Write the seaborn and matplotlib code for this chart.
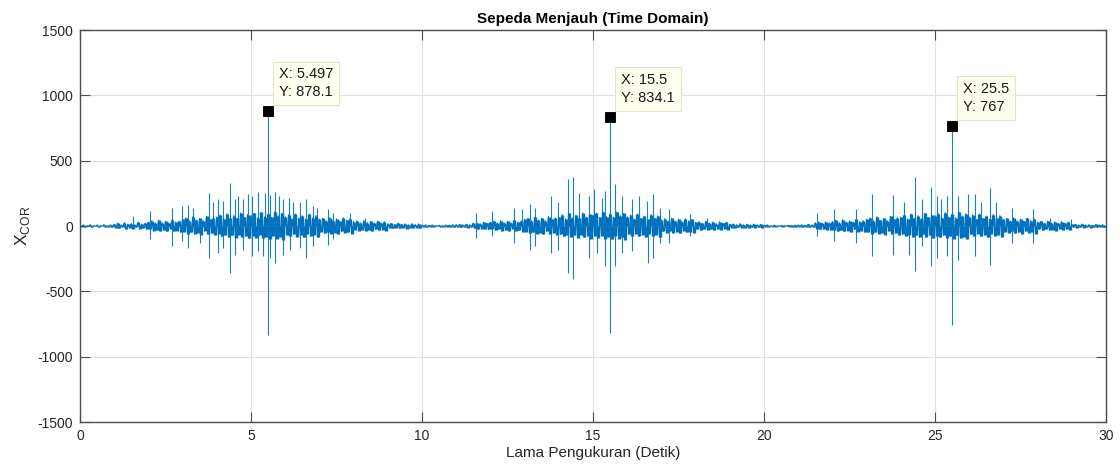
import numpy as np
import pandas as pd
import matplotlib
matplotlib.use("Agg")
import matplotlib.pyplot as plt
import seaborn as sns

# ---------------- data ----------------
dt = 0.05  # sample spacing of the band trace (s)
band_rows = [
    [3,-4,9,-8,2,-3,10,-9,3,-2,8,-7,2,-3,11,-10,3,-4,9,-8],
    [12,-15,22,-18,8,-10,25,-20,14,-12,19,-24,10,-9,28,-22,15,-17,20,-26],
    [30,-25,40,-36,22,-28,45,-38,26,-31,35,-42,24,-20,48,-40,30,-35,38,-45],
    [50,-45,62,-58,40,-48,70,-60,45,-52,58,-66,42,-38,75,-62,50,-55,64,-70],
    [70,-62,85,-80,55,-68,95,-84,60,-72,80,-90,58,-66,100,-86,68,-75,88,-95],
    [80,-76,96,-90,65,-72,104,-94,70,-82,92,-100,66,-74,110,-96,78,-85,98,-104],
    [72,-66,86,-80,56,-64,92,-82,60,-70,78,-88,54,-60,90,-78,62,-68,80,-86],
    [52,-46,60,-56,40,-44,64,-58,42,-50,55,-62,38,-42,62,-54,44,-48,56,-60],
    [34,-28,40,-36,24,-28,42,-36,26,-30,35,-40,22,-26,38,-32,24,-28,33,-36],
    [18,-14,20,-18,12,-14,22,-18,12,-15,17,-20,10,-12,18,-15,11,-13,16,-18],
    [8,-6,9,-8,4,-5,8,-6,3,-3,5,-6,3,-4,8,-7,6,-7,10,-9],
    [10,-8,12,-11,8,-9,14,-12,10,-10,22,-18,26,-24,18,-22,28,-25,20,-26],
    [28,-25,38,-34,22,-26,42,-36,26,-30,35,-40,24,-22,45,-38,30,-34,38,-44],
    [50,-45,60,-56,40,-48,68,-58,45,-52,58,-64,42,-40,72,-60,50,-54,62,-68],
    [70,-64,86,-80,56,-68,96,-84,62,-72,82,-90,58,-66,100,-88,68,-76,90,-96],
    [82,-78,98,-92,66,-74,106,-96,72,-82,94,-102,68,-76,108,-96,78,-86,96,-104],
    [70,-64,84,-78,54,-62,90,-80,58,-68,76,-86,52,-58,88,-76,60,-66,78,-84],
    [48,-42,56,-52,36,-40,58,-52,38,-45,50,-56,34,-38,56,-48,40,-44,50,-54],
    [28,-24,34,-30,20,-24,36,-30,22,-25,30,-34,18,-22,32,-27,20,-23,28,-30],
    [14,-12,16,-15,10,-11,18,-15,10,-12,14,-16,8,-10,15,-12,9,-10,13,-14],
    [6,-5,8,-7,3,-4,7,-5,2,-3,4,-5,3,-3,6,-5,4,-5,7,-6],
    [8,-7,10,-9,6,-7,12,-10,9,-9,24,-20,30,-26,22,-25,32,-28,24,-30],
    [34,-30,44,-40,26,-32,48,-42,30,-35,40,-46,28,-26,50,-44,34,-38,42,-48],
    [50,-45,62,-58,40,-48,70,-60,45,-52,58,-66,42,-38,74,-62,50,-55,64,-70],
    [68,-62,82,-78,54,-66,92,-82,58,-70,78,-88,56,-64,96,-84,66,-72,86,-92],
    [80,-74,94,-88,64,-70,102,-92,68,-80,90,-98,64,-72,106,-94,76,-82,94,-100],
    [70,-64,84,-78,54,-62,90,-80,58,-68,76,-86,52,-58,88,-76,60,-66,78,-84],
    [50,-44,58,-54,38,-42,62,-56,40,-48,52,-60,36,-40,60,-52,42,-46,54,-58],
    [30,-26,36,-32,22,-26,38,-32,24,-27,32,-36,20,-24,34,-29,22,-25,30,-32],
    [12,-10,14,-12,8,-9,15,-12,8,-10,11,-13,6,-8,12,-10,7,-8,10,-11],
]
band_end = [0]

pos_spike_t = [1.56,2.05,2.68,2.97,3.17,3.31,3.78,3.90,4.04,4.17,4.40,4.53,4.63,4.78,4.92,5.04,5.21,5.41,5.497,
               5.57,5.70,5.83,5.95,6.12,6.24,6.43,6.61,6.82,6.92,7.26,7.41,7.90,8.33,
               11.58,12.06,12.68,12.92,13.16,13.31,13.78,13.99,14.26,14.41,14.58,14.87,15.02,15.26,15.36,15.5,
               15.65,15.85,16.14,16.34,16.58,16.75,16.97,17.22,17.85,18.33,
               21.56,22.05,22.68,23.15,23.76,24.10,24.41,24.63,24.88,25.05,25.19,25.34,25.5,
               25.67,25.96,26.16,26.35,26.62,26.79,27.25,27.86,28.35,28.98]
pos_spike_v = [77,115,141,154,159,141,251,185,210,192,326,205,231,205,244,231,262,249,878.1,
               236,264,231,205,218,180,180,210,154,141,128,103,103,64,
               97,115,141,128,167,141,231,180,359,372,256,231,282,218,269,834.1,
               320,231,205,231,192,244,141,128,90,64,
               103,128,133,244,236,180,377,210,295,231,205,231,767,
               231,244,244,180,287,180,141,128,64,51]
neg_spike_t = [2.05,2.68,2.97,3.17,3.51,3.78,4.04,4.17,4.40,4.53,4.78,5.04,5.21,5.36,5.497,
               5.57,5.70,5.95,6.14,6.43,6.61,6.82,7.26,7.41,
               11.58,12.06,12.68,13.16,13.31,13.78,13.99,14.26,14.41,14.87,15.12,15.36,15.5,
               15.65,15.85,16.14,16.61,16.75,16.97,17.22,17.85,
               21.56,22.05,22.68,23.15,23.76,24.25,24.41,24.63,24.88,25.05,25.36,25.5,
               25.67,26.16,26.62,27.25,27.86]
neg_spike_v = [-103,-155,-116,-168,-129,-245,-206,-168,-356,-219,-180,-232,-193,-232,-835,
               -245,-284,-219,-180,-168,-245,-155,-142,-103,
               -90,-77,-129,-180,-155,-206,-180,-356,-407,-245,-206,-309,-818,
               -309,-206,-193,-284,-245,-129,-129,-77,
               -77,-116,-129,-232,-219,-219,-348,-155,-309,-245,-232,-760,
               -258,-232,-296,-129,-129]

tip_x = [5.497, 15.5, 25.5]
tip_y = [878.1, 834.1, 767]

title = "Sepeda Menjauh (Time Domain)"
xlabel = "Lama Pengukuran (Detik)"
ylabel = r"X$_{\mathrm{COR}}$"
xticks = [0, 5, 10, 15, 20, 25, 30]
yticks = [-1500, -1000, -500, 0, 500, 1000, 1500]

# ---------------- figure ----------------
sns.set_theme(style="white")
plt.rcParams["font.family"] = ["Liberation Sans", "DejaVu Sans"]
plt.rcParams["mathtext.fontset"] = "custom"
plt.rcParams["mathtext.rm"] = "Liberation Sans"
plt.rcParams["axes.unicode_minus"] = False

line_color = "#0072BD"
axis_color = "#4d4d4d"
text_color = "#262626"

signal = np.concatenate([np.concatenate(band_rows), band_end]).astype(float)
t = np.arange(len(signal)) * dt
df = pd.DataFrame({"t": t, "x": signal})

fig = plt.figure(figsize=(11.2, 4.68), dpi=100)
ax = fig.add_axes([80/1120, 1 - 422/468, (1106-80)/1120, (422-30)/468])

ax.grid(True, color="#e0e0e0", linewidth=0.8, zorder=0)
ax.set_axisbelow(True)

# dense trace: samples drawn as stems plus the connecting line
ax.vlines(df["t"], 0, df["x"], color=line_color, linewidth=2.4, zorder=2)
sns.lineplot(data=df, x="t", y="x", ax=ax, color=line_color, linewidth=0.8,
             estimator=None, sort=False, zorder=2)
ax.vlines(pos_spike_t, 0, pos_spike_v, color=line_color, linewidth=0.8, alpha=0.9, zorder=2)
ax.vlines(neg_spike_t, 0, neg_spike_v, color=line_color, linewidth=0.8, alpha=0.9, zorder=2)

sns.scatterplot(x=tip_x, y=tip_y, ax=ax, marker="s", s=62, color="black",
                edgecolor="black", zorder=5)
for xv, yv in zip(tip_x, tip_y):
    ax.annotate(f"X: {xv:g}\nY: {yv:g}", xy=(xv, yv), xytext=(11, 12),
                textcoords="offset pixels", ha="left", va="bottom",
                fontsize=10.5, color="#1a1a1a", linespacing=1.35, zorder=6,
                bbox=dict(boxstyle="square,pad=0.4", facecolor="#FFFFEE",
                          edgecolor="#e3e3d0", linewidth=0.8))

ax.set_xlim(0, 30)
ax.set_ylim(-1500, 1500)
ax.set_xticks(xticks)
ax.set_yticks(yticks)
ax.tick_params(axis="both", which="major", direction="in", length=7, width=0.8,
               colors=axis_color, labelcolor=text_color, labelsize=10,
               top=True, right=True, bottom=True, left=True, pad=5)
for sp in ax.spines.values():
    sp.set_visible(True)
    sp.set_color(axis_color)
    sp.set_linewidth(1.0)

ax.set_title(title, fontsize=11, fontweight="bold", color="black", pad=5)
ax.set_xlabel(xlabel, fontsize=11, color=text_color, labelpad=2)
ax.set_ylabel(ylabel, fontsize=12.5, color=text_color, labelpad=4)

fig.savefig("out.png", dpi=100)
